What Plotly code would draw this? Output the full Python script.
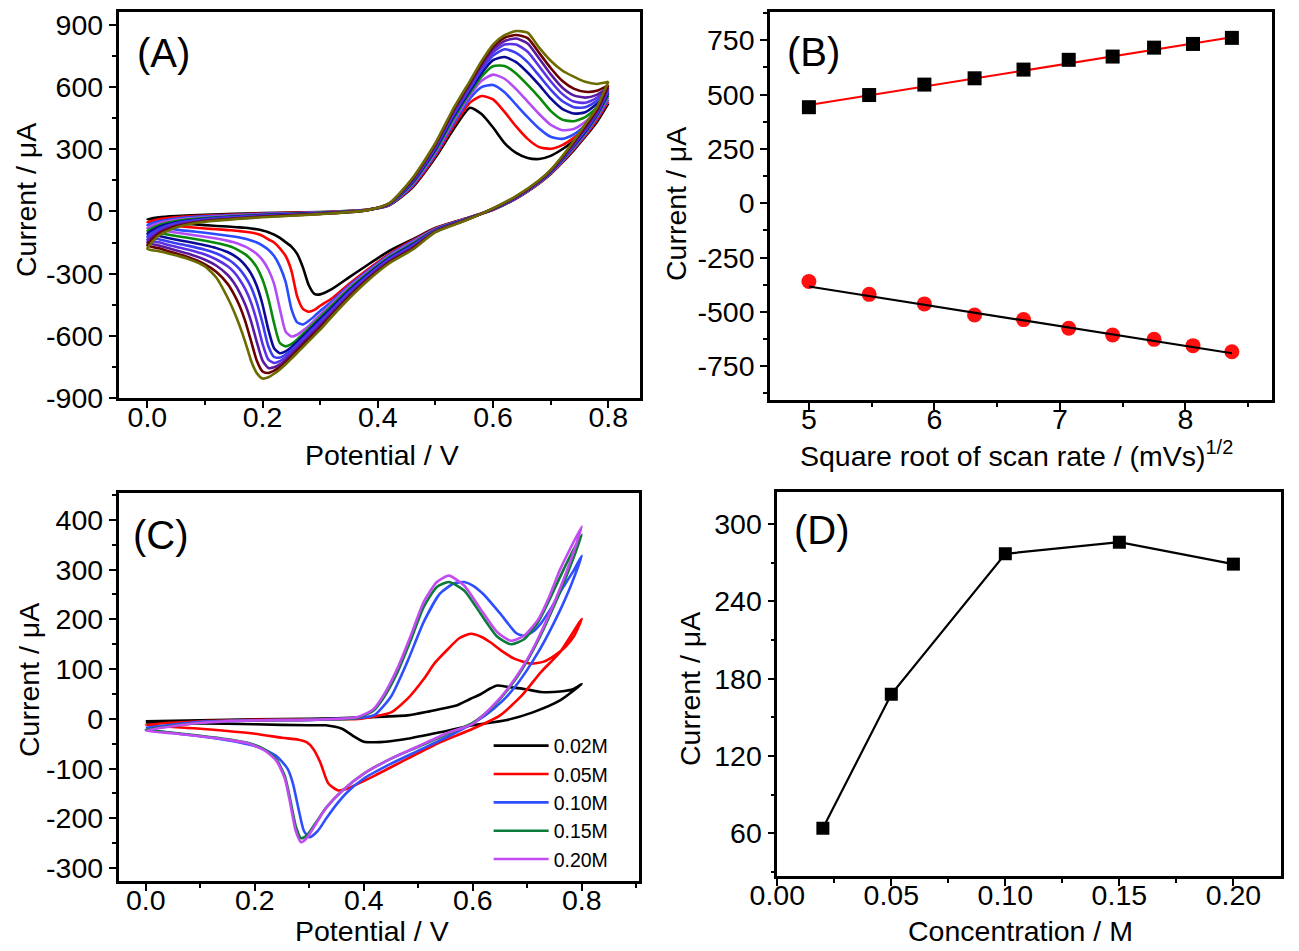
import plotly.graph_objects as go

FONT = "Liberation Sans, Arial, sans-serif"

# ---------------- Panel A : CVs at different scan rates ----------------
A_fwd_E = [0.00, 0.02, 0.05, 0.10, 0.20, 0.30, 0.38, 0.42, 0.46, 0.50, 0.53, 0.56,
           0.58, 0.60, 0.62, 0.64, 0.66, 0.68, 0.70, 0.72, 0.74, 0.76, 0.78, 0.80]
A_rev_E = [0.80, 0.78, 0.76, 0.74, 0.72, 0.70, 0.68, 0.64, 0.60, 0.55, 0.50,
           0.46, 0.42, 0.38, 0.35, 0.32, 0.30, 0.29, 0.28, 0.27, 0.26, 0.25, 0.24, 0.23, 0.22,
           0.21, 0.20, 0.19, 0.18, 0.17, 0.16, 0.15, 0.14, 0.12, 0.10, 0.07, 0.04, 0.02, 0.00]
A_colors = ["#000000", "#ff0000", "#2a4bff", "#b44cf5", "#0a8a0a", "#0a0a96",
            "#3c3cf0", "#5a32e6", "#5a1aa0", "#6a0000", "#6b6b00"]

a_fwd_0 = [-38, -28, -22, -16, -8, -3, 8, 30, 115, 260, 390, 500, 470, 405, 330, 282, 258, 253, 268, 300, 340, 385, 445, 520]
a_fwd_1 = [-52, -38, -28, -20, -10, -4, 8, 31, 120, 268, 405, 525, 557, 540, 480, 410, 350, 310, 302, 320, 355, 400, 460, 530]
a_fwd_2 = [-66, -48, -34, -24, -12, -5, 7, 32, 125, 276, 418, 545, 600, 610, 575, 515, 455, 400, 360, 350, 372, 415, 470, 540]
a_fwd_3 = [-80, -57, -40, -28, -14, -6, 7, 33, 130, 284, 430, 560, 630, 660, 640, 590, 530, 470, 418, 392, 398, 432, 485, 550]
a_fwd_4 = [-94, -66, -46, -32, -16, -7, 7, 34, 135, 292, 441, 572, 650, 700, 702, 665, 610, 550, 485, 443, 435, 455, 500, 560]
a_fwd_5 = [-108, -75, -52, -35, -18, -8, 6, 35, 140, 300, 451, 583, 667, 730, 745, 720, 670, 610, 545, 495, 472, 478, 518, 570]
a_fwd_6 = [-122, -84, -57, -38, -20, -9, 6, 36, 145, 307, 460, 594, 682, 752, 782, 765, 720, 655, 588, 533, 503, 502, 533, 580]
a_fwd_7 = [-136, -92, -62, -41, -22, -10, 6, 37, 148, 313, 468, 604, 694, 768, 805, 805, 770, 700, 628, 567, 530, 524, 548, 588]
a_fwd_8 = [-150, -100, -67, -44, -24, -11, 5, 38, 152, 319, 476, 613, 705, 782, 822, 834, 810, 738, 662, 598, 560, 549, 562, 597]
a_fwd_9 = [-164, -108, -72, -47, -26, -12, 5, 39, 156, 325, 483, 622, 715, 795, 838, 851, 836, 765, 692, 630, 592, 577, 582, 608]
a_fwd_10 = [-180, -116, -77, -50, -28, -13, 5, 40, 160, 330, 490, 630, 725, 805, 850, 870, 862, 790, 727, 680, 650, 625, 615, 625]

a_rev_0 = [520, 430, 360, 295, 235, 180, 135, 62, 8, -36, -80,
           -135, -190, -262, -318, -375, -400, -398, -355, -270, -205, -170, -148, -128, -112,
           -100, -92, -86, -82, -79, -77, -75, -73, -70, -66, -60, -53, -46, -38]
a_rev_1 = [530, 440, 365, 300, 238, 182, 136, 63, 8, -37, -82,
           -140, -205, -285, -350, -420, -455, -475, -484, -470, -410, -285, -215, -178, -150,
           -135, -118, -108, -102, -98, -95, -92, -90, -86, -82, -75, -67, -60, -52]
a_rev_2 = [540, 450, 370, 305, 241, 184, 138, 64, 9, -38, -84,
           -145, -210, -292, -358, -435, -480, -505, -528, -545, -535, -470, -340, -265, -215,
           -185, -165, -150, -140, -132, -126, -121, -117, -110, -103, -94, -84, -75, -66]
a_rev_3 = [550, 455, 375, 308, 244, 186, 139, 65, 10, -39, -86,
           -150, -215, -298, -366, -445, -498, -525, -552, -575, -595, -603, -580, -470, -350,
           -280, -235, -205, -185, -170, -158, -149, -142, -131, -122, -110, -98, -89, -80]
a_rev_4 = [560, 460, 380, 312, 247, 188, 141, 66, 10, -40, -88,
           -155, -220, -304, -374, -455, -510, -538, -565, -592, -618, -640, -651, -635, -540,
           -420, -330, -270, -232, -207, -190, -176, -166, -152, -141, -127, -114, -104, -94]
a_rev_5 = [570, 465, 385, 316, 250, 190, 142, 67, 11, -41, -90,
           -160, -225, -310, -382, -465, -520, -548, -576, -603, -630, -655, -675, -684, -660,
           -570, -450, -360, -300, -260, -232, -212, -197, -177, -163, -146, -131, -119, -108]
a_rev_6 = [580, 470, 390, 320, 253, 192, 144, 68, 12, -42, -92,
           -165, -230, -316, -390, -475, -530, -558, -586, -614, -642, -668, -690, -705, -702,
           -650, -540, -440, -365, -315, -278, -251, -231, -203, -185, -165, -148, -134, -122]
a_rev_7 = [588, 475, 395, 324, 256, 194, 145, 69, 12, -43, -94,
           -170, -235, -322, -398, -484, -540, -568, -596, -624, -652, -679, -703, -722, -731,
           -715, -640, -530, -440, -375, -328, -292, -266, -232, -208, -184, -164, -149, -136]
a_rev_8 = [597, 480, 400, 328, 259, 196, 147, 70, 13, -44, -96,
           -175, -240, -328, -405, -492, -550, -578, -606, -634, -662, -690, -716, -738, -752,
           -755, -720, -630, -530, -450, -390, -343, -308, -262, -233, -203, -180, -164, -150]
a_rev_9 = [608, 490, 410, 334, 262, 198, 148, 72, 14, -45, -98,
           -180, -245, -334, -412, -500, -560, -588, -616, -644, -672, -700, -727, -751, -768,
           -779, -772, -720, -625, -530, -455, -398, -352, -292, -255, -220, -195, -178, -164]
a_rev_10 = [625, 500, 420, 340, 266, 200, 150, 74, 15, -46, -100,
            -185, -250, -340, -420, -508, -570, -598, -626, -654, -682, -710, -737, -762, -783,
            -800, -806, -780, -720, -630, -550, -480, -420, -320, -265, -228, -205, -192, -180]

A_fwd = [a_fwd_0, a_fwd_1, a_fwd_2, a_fwd_3, a_fwd_4, a_fwd_5, a_fwd_6, a_fwd_7, a_fwd_8, a_fwd_9, a_fwd_10]
A_rev = [a_rev_0, a_rev_1, a_rev_2, a_rev_3, a_rev_4, a_rev_5, a_rev_6, a_rev_7, a_rev_8, a_rev_9, a_rev_10]
A_yticks = [-900, -600, -300, 0, 300, 600, 900]

# ---------------- Panel B : peak current vs sqrt(scan rate) ----------------
B_x = [5.00, 5.48, 5.92, 6.32, 6.71, 7.07, 7.42, 7.75, 8.06, 8.37]
B_ipa = [442, 498, 546, 575, 615, 660, 675, 716, 733, 761]
B_ipc = [-360, -419, -463, -514, -535, -575, -606, -626, -655, -683]
B_fit_x = [5.00, 8.37]
B_fit_a = [452, 764]
B_fit_c = [-383, -690]
B_yticks = [-750, -500, -250, 0, 250, 500, 750]

# ---------------- Panel C : CVs at different concentrations ----------------
C_labels = ["0.02M", "0.05M", "0.10M", "0.15M", "0.20M"]
C_colors = ["#000000", "#ff0000", "#2f4fff", "#0b7a3a", "#c24cf2"]
C_yticks = [-300, -200, -100, 0, 100, 200, 300, 400]

c_E_002 = [0.00, 0.10, 0.20, 0.30, 0.40, 0.48, 0.52, 0.55, 0.57, 0.595, 0.615, 0.63, 0.645, 0.665, 0.695,
           0.725, 0.76, 0.785, 0.80, 0.76, 0.71, 0.66, 0.60, 0.54, 0.48, 0.44, 0.42, 0.40, 0.38, 0.36,
           0.33, 0.30, 0.20, 0.10, 0.00]
c_I_002 = [-5, -3, -1, 0, 3, 7, 15, 22, 27, 40, 50, 60, 67, 64, 60,
           54, 55, 60, 70, 37, 13, -3, -13, -27, -40, -46, -47, -46, -34, -20,
           -13, -13, -11, -9, -7]

c_E_005 = [0.00, 0.10, 0.20, 0.30, 0.39, 0.42, 0.45, 0.48, 0.51, 0.53, 0.555, 0.575, 0.596, 0.615, 0.632,
           0.655, 0.676, 0.706, 0.73, 0.75, 0.77, 0.786, 0.80,
           0.76, 0.725, 0.69, 0.65, 0.60, 0.54, 0.48, 0.42, 0.37, 0.353, 0.335, 0.32, 0.307, 0.295,
           0.28, 0.25, 0.20, 0.10, 0.00]
c_I_005 = [-12, -5, -2, -1, 0, 5, 13, 40, 80, 112, 141, 162, 171, 165, 154,
           135, 121, 111, 115, 127, 145, 167, 201,
           134, 94, 47, 7, -20, -47, -80, -114, -140, -144, -130, -87, -60, -47,
           -42, -38, -30, -20, -12]

c_E_010 = [0.00, 0.10, 0.20, 0.30, 0.40, 0.42, 0.45, 0.48, 0.51, 0.54, 0.565, 0.584, 0.60, 0.62, 0.65,
           0.68, 0.694, 0.71, 0.725, 0.745, 0.762, 0.786, 0.80,
           0.78, 0.76, 0.74, 0.72, 0.70, 0.68, 0.66, 0.64, 0.62, 0.60, 0.55, 0.50, 0.45, 0.40, 0.37,
           0.35, 0.33, 0.315, 0.30, 0.29, 0.28, 0.27, 0.26, 0.24, 0.21, 0.17, 0.12, 0.06, 0.00]
c_I_010 = [-18, -6, -3, -2, 3, 8, 45, 115, 195, 252, 272, 275, 268, 250, 212,
           172, 167, 175, 192, 225, 258, 300, 328,
           268, 218, 174, 134, 99, 68, 42, 22, 5, -9, -38, -64, -90, -120, -147,
           -172, -202, -226, -238, -225, -180, -130, -100, -75, -58, -47, -38, -30, -22]

c_E_015 = [0.00, 0.10, 0.20, 0.30, 0.387, 0.418, 0.436, 0.461, 0.486, 0.51, 0.534, 0.556, 0.584, 0.614, 0.645,
           0.67, 0.694, 0.72, 0.74, 0.76, 0.78, 0.80,
           0.78, 0.76, 0.74, 0.72, 0.70, 0.68, 0.66, 0.64, 0.62, 0.60, 0.55, 0.50, 0.45, 0.40, 0.36,
           0.33, 0.31, 0.295, 0.285, 0.275, 0.265, 0.255, 0.24, 0.22, 0.19, 0.15, 0.10, 0.05, 0.00]
c_I_015 = [-22, -8, -3, -2, 2, 17, 42, 92, 158, 225, 265, 275, 258, 212, 165,
           150, 160, 195, 238, 285, 330, 370,
           310, 255, 205, 158, 117, 82, 53, 28, 8, -8, -32, -56, -80, -110, -145,
           -180, -212, -235, -240, -215, -162, -115, -82, -63, -49, -41, -34, -28, -22]

c_E_020 = [0.00, 0.10, 0.20, 0.30, 0.387, 0.418, 0.436, 0.461, 0.486, 0.51, 0.534, 0.556, 0.584, 0.614, 0.645,
           0.67, 0.694, 0.72, 0.74, 0.76, 0.78, 0.80,
           0.78, 0.76, 0.74, 0.72, 0.70, 0.68, 0.66, 0.64, 0.62, 0.60, 0.55, 0.50, 0.45, 0.40, 0.36,
           0.33, 0.31, 0.295, 0.285, 0.275, 0.265, 0.255, 0.24, 0.22, 0.19, 0.15, 0.10, 0.05, 0.00]
c_I_020 = [-24, -8, -3, -2, 3, 20, 47, 100, 167, 235, 275, 288, 268, 221, 174,
           157, 167, 200, 245, 300, 345, 387,
           320, 262, 210, 162, 120, 85, 55, 30, 8, -10, -30, -55, -80, -110, -145,
           -180, -215, -240, -248, -225, -170, -120, -85, -65, -50, -42, -35, -29, -24]

C_E = [c_E_002, c_E_005, c_E_010, c_E_015, c_E_020]
C_I = [c_I_002, c_I_005, c_I_010, c_I_015, c_I_020]

# ---------------- Panel D : peak current vs concentration ----------------
D_conc = [0.02, 0.05, 0.10, 0.15, 0.20]
D_cur = [64, 168, 277, 286, 269]

fig = go.Figure()

for i in range(len(A_fwd)):
    fig.add_trace(go.Scatter(
        x=A_fwd_E + A_rev_E, y=A_fwd[i] + A_rev[i], mode="lines",
        line=dict(color=A_colors[i], width=2.6, shape="spline", smoothing=0.6),
        xaxis="x", yaxis="y", showlegend=False, hoverinfo="skip"))

fig.add_trace(go.Scatter(x=B_fit_x, y=B_fit_a, mode="lines", line=dict(color="#ff0000", width=2.2),
                         xaxis="x2", yaxis="y2", showlegend=False))
fig.add_trace(go.Scatter(x=B_x, y=B_ipa, mode="markers",
                         marker=dict(symbol="square", size=14, color="#000000"),
                         xaxis="x2", yaxis="y2", showlegend=False))
fig.add_trace(go.Scatter(x=B_x, y=B_ipc, mode="markers",
                         marker=dict(symbol="circle", size=15, color="#ff1010"),
                         xaxis="x2", yaxis="y2", showlegend=False))
fig.add_trace(go.Scatter(x=B_fit_x, y=B_fit_c, mode="lines", line=dict(color="#000000", width=2.2),
                         xaxis="x2", yaxis="y2", showlegend=False))

for i in range(len(C_E)):
    fig.add_trace(go.Scatter(
        x=C_E[i], y=C_I[i], mode="lines", name=C_labels[i],
        line=dict(color=C_colors[i], width=2.6, shape="spline", smoothing=0.6),
        xaxis="x3", yaxis="y3", showlegend=True, hoverinfo="skip"))

fig.add_trace(go.Scatter(x=D_conc, y=D_cur, mode="lines+markers",
                         line=dict(color="#000000", width=2.2),
                         marker=dict(symbol="square", size=13, color="#000000"),
                         xaxis="x4", yaxis="y4", showlegend=False))

TICK_SIZE = 28.5
TITLE_SIZE = 28.5


def axis(domain, rng, dtick, minor, anchor, tickvals=None, fmt=None, is_x=False):
    d = dict(domain=domain, range=rng, dtick=dtick, tick0=0, anchor=anchor, automargin=False,
             showline=True, linewidth=2.5, linecolor="black", mirror=True,
             ticks="outside", ticklen=7, tickwidth=2, tickcolor="black",
             minor=dict(dtick=minor, tick0=0, ticks="outside", ticklen=4, tickwidth=2, tickcolor="black"),
             showgrid=False, zeroline=False, ticklabeloverflow="allow",
             tickfont=dict(family=FONT, size=TICK_SIZE, color="black"))
    if is_x:
        d["ticklabelstandoff"] = -15
    if tickvals is not None:
        d["tickmode"] = "array"
        d["tickvals"] = tickvals
        d["ticktext"] = [str(v) for v in tickvals]
    if fmt is not None:
        d["tickformat"] = fmt
    return d


fig.update_layout(
    width=1299, height=951, margin=dict(l=0, r=0, t=0, b=0),
    paper_bgcolor="white", plot_bgcolor="white",
    font=dict(family=FONT, color="black"),
    xaxis=axis([0.0851, 0.4865], [-0.05, 0.855], 0.2, 0.1, "y", fmt=".1f", is_x=True),
    yaxis=axis([0.5899, 0.9958], [-900, 962], 300, 150, "x", tickvals=A_yticks),
    xaxis2=axis([0.5866, 0.9731], [4.69, 8.69], 1, 0.5, "y2", is_x=True),
    yaxis2=axis([0.5878, 0.9958], [-905, 880], 250, 125, "x2", tickvals=B_yticks),
    xaxis3=axis([0.0851, 0.4858], [-0.05, 0.905], 0.2, 0.1, "y3", fmt=".1f", is_x=True),
    yaxis3=axis([0.0820, 0.4900], [-326, 454], 100, 50, "x3", tickvals=C_yticks),
    xaxis4=axis([0.5922, 0.9802], [0, 0.221], 0.05, 0.025, "y4", fmt=".2f", is_x=True),
    yaxis4=axis([0.0873, 0.4911], [27, 325], 60, 30, "x4"),
    legend=dict(x=0.370, y=0.2445, xanchor="left", yanchor="top",
                font=dict(family=FONT, size=19.5, color="black"),
                bgcolor="rgba(0,0,0,0)", borderwidth=0, itemwidth=55, tracegroupgap=0),
)

# axis titles (pixel centres)
axis_titles = [
    ("Potential / V", 374, 447, 0),
    ("Current / μA", 18, 192, -90),
    ("Square root of scan rate / (mVs)<sup>1/2</sup>", 1008, 446, 0),
    ("Current / μA", 668, 196, -90),
    ("Potential / V", 364, 923, 0),
    ("Current / μA", 21, 672, -90),
    ("Concentration / M", 1012, 923, 0),
    ("Current / μA", 682, 681, -90),
]
for txt, px, py, ang in axis_titles:
    fig.add_annotation(text=txt, x=px / 1299, y=1 - py / 951, xref="paper", yref="paper",
                       showarrow=False, xanchor="center", yanchor="middle", textangle=ang,
                       font=dict(family=FONT, size=TITLE_SIZE, color="black"))

labels = [("(A)", 155, 45), ("(B)", 806, 44), ("(C)", 153, 527), ("(D)", 814, 522)]
for txt, px, py in labels:
    fig.add_annotation(text=txt, x=px / 1299, y=1 - py / 951, xref="paper", yref="paper",
                       showarrow=False, xanchor="center", yanchor="middle",
                       font=dict(family=FONT, size=40, color="black"))

fig.write_html("out.html")
